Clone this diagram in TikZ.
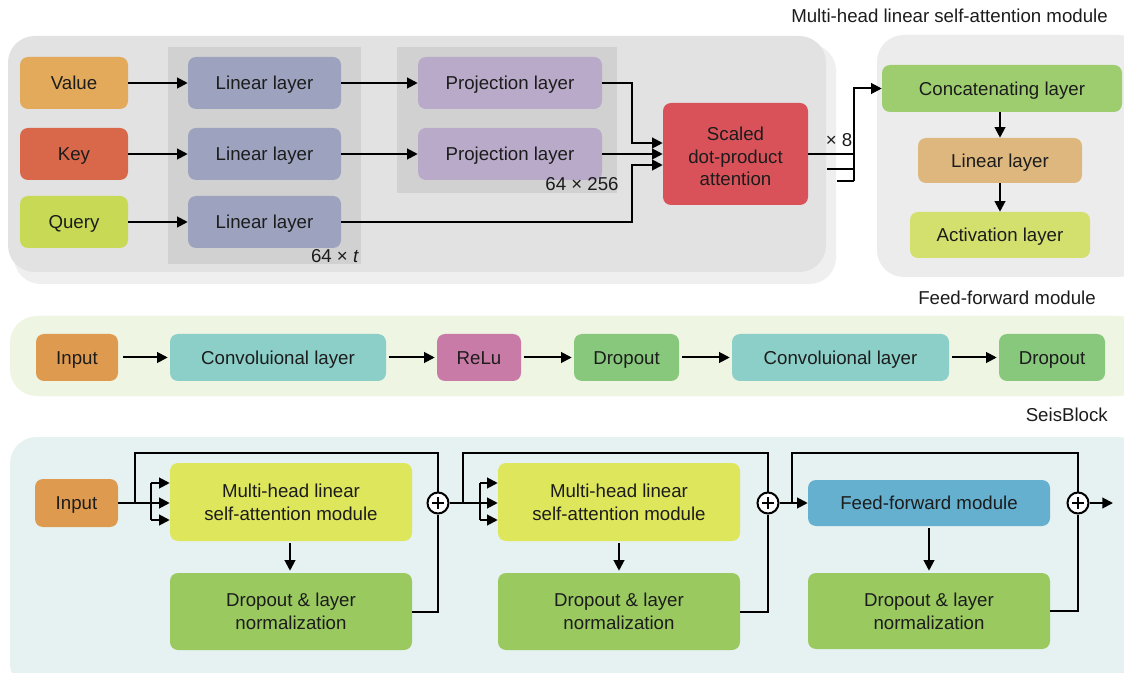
\documentclass[tikz,border=0pt]{standalone}
\usepackage{fontspec}
\setmainfont{Liberation Sans}
\usetikzlibrary{arrows.meta,calc}
\definecolor{txt}{HTML}{1C1C1C}
\definecolor{ptop}{HTML}{E2E2E2}
\definecolor{pshadow}{HTML}{EFEFEF}
\definecolor{pinner}{HTML}{D1D1D1}
\definecolor{pright}{HTML}{ECECEC}
\definecolor{cvalue}{HTML}{E2AA5A}
\definecolor{ckey}{HTML}{D9684A}
\definecolor{cquery}{HTML}{C8DA55}
\definecolor{clin}{HTML}{9DA3BF}
\definecolor{cproj}{HTML}{B9AAC9}
\definecolor{cscaled}{HTML}{D9525A}
\definecolor{ccat}{HTML}{9ECD6F}
\definecolor{clinr}{HTML}{DDB77E}
\definecolor{cact}{HTML}{D3E06E}
\definecolor{pff}{HTML}{EEF5E2}
\definecolor{cinput}{HTML}{DE9B4F}
\definecolor{cconv}{HTML}{8CCFC8}
\definecolor{crelu}{HTML}{C97BA7}
\definecolor{cdrop}{HTML}{88C87C}
\definecolor{pseis}{HTML}{E6F2F1}
\definecolor{cmha}{HTML}{DEE65C}
\definecolor{cdn}{HTML}{9AC960}
\definecolor{cffm}{HTML}{65AFCF}
\begin{document}
\begin{tikzpicture}[x=0.75pt,y=-0.75pt,
  font=\fontsize{14}{17}\selectfont,
  sz/.style 2 args={minimum width=#1*0.75pt, minimum height=#2*0.75pt},
  box/.style={rounded corners=6pt, inner sep=0pt, align=center, text=txt},
  one/.style={text height=10pt, text depth=0pt},
  ln/.style={line width=1.5pt, draw=black},
  arr/.style={ln, -{Triangle[length=8pt,width=8pt]}},
  oplus/.style={circle, draw, line width=1.5pt, fill=white, minimum size=21*0.75pt, inner sep=0pt,
    path picture={\draw[line width=1.4pt] ($(path picture bounding box.center)+(0,-6)$) -- ($(path picture bounding box.center)+(0,6)$)
      ($(path picture bounding box.center)+(-6,0)$) -- ($(path picture bounding box.center)+(6,0)$);}},
  lbl/.style={text=txt, inner sep=0pt}
]
\clip (0,0) rectangle (1124,673);
\fill[white] (0,0) rectangle (1124,673);

% ---------------- top panel ----------------
\fill[pshadow, rounded corners=20pt] (14,44) rectangle (836,284);
\fill[ptop, rounded corners=20pt] (8,36) rectangle (826,272);
\fill[pinner] (168,47) rectangle (361,264);
\fill[pinner] (397,47) rectangle (617,193);
\fill[pright, rounded corners=20pt] (877,35) rectangle (1145,277);

\node[lbl, anchor=east] (t1) at (1108,16) {Multi-head linear self-attention module};

\node[box, one, fill=cvalue, sz={108}{52}] (val) at (74,83) {Value};
\node[box, one, fill=ckey, sz={108}{52}] (key) at (74,154) {Key};
\node[box, one, fill=cquery, sz={108}{52}] (qry) at (74,222) {Query};
\node[box, one, fill=clin, sz={153}{52}] (lv) at (264.5,83) {Linear layer};
\node[box, one, fill=clin, sz={153}{52}] (lk) at (264.5,154) {Linear layer};
\node[box, one, fill=clin, sz={153}{52}] (lq) at (264.5,222) {Linear layer};
\node[box, one, fill=cproj, sz={184}{52}] (pv) at (510,83) {Projection layer};
\node[box, one, fill=cproj, sz={184}{52}] (pk) at (510,154) {Projection layer};
\node[box, fill=cscaled, sz={145}{102}] (sc) at (735.5,154) {\rule{0pt}{1.5ex}\\[-14pt]Scaled\\dot-product\\attention};
\node[lbl] (d64t) at (335,256) {64 × \textit{t}};
\node[lbl] (d64) at (582,184) {64 × 256};
\node[lbl] (x8) at (839,140) {× 8};

\draw[arr] (val) -- (lv);
\draw[arr] (key) -- (lk);
\draw[arr] (qry) -- (lq);
\draw[arr] (lv) -- (pv);
\draw[arr] (lk) -- (pk);
\coordinate (jx) at (632,0);
\draw[arr] (pv.east) -- (pv.east -| jx) |- ($(sc.west)+(0,-11)$);
\draw[arr] (pk.east) -- (sc.west);
\draw[arr] (lq.east) -- (lq.east -| jx) |- ($(sc.west)+(0,11)$);

\node[box, one, fill=ccat, sz={240}{47}] (cat) at (1002,88.5) {Concatenating layer};
\node[box, one, fill=clinr, sz={164}{45}] (lr) at (1000,160.5) {Linear layer};
\node[box, one, fill=cact, sz={180}{46}] (act) at (1000,235) {Activation layer};
\draw[arr] (cat.south -| lr.north) -- (lr.north);
\draw[arr] (lr) -- (act);

\coordinate (o2) at (827,169);
\coordinate (o3) at (837,181);
\coordinate (vx) at (854,181);
\draw[ln] (sc.east) -- (sc.east -| vx);
\draw[ln] (o2) -- (o2 -| vx);
\draw[ln] (o3) -- (vx);
\draw[arr] (vx) |- (cat.west);

% ---------------- feed-forward panel ----------------
\node[lbl, anchor=east] (t2) at (1096,298) {Feed-forward module};
\fill[pff, rounded corners=20pt] (10,316) rectangle (1145,396);
\node[box, one, fill=cinput, sz={82}{47}] (fin) at (77,357.5) {Input};
\node[box, one, fill=cconv, sz={216}{47}] (fc1) at (278,357.5) {Convoluional layer};
\node[box, one, fill=crelu, sz={84}{47}] (frl) at (479,357.5) {ReLu};
\node[box, one, fill=cdrop, sz={105}{47}] (fd1) at (626.5,357.5) {Dropout};
\node[box, one, fill=cconv, sz={217}{47}] (fc2) at (840.5,357.5) {Convoluional layer};
\node[box, one, fill=cdrop, sz={106}{47}] (fd2) at (1052,357.5) {Dropout};
\draw[arr] ($(fin.east)+(5,0)$) -- ($(fc1.west)+(-2,0)$);
\draw[arr] ($(fc1.east)+(3,0)$) -- ($(frl.west)+(-2,0)$);
\draw[arr] ($(frl.east)+(3,0)$) -- ($(fd1.west)+(-2,0)$);
\draw[arr] ($(fd1.east)+(3,0)$) -- ($(fc2.west)+(-2,0)$);
\draw[arr] ($(fc2.east)+(3,0)$) -- ($(fd2.west)+(-2,0)$);

% ---------------- SeisBlock panel ----------------
\node[lbl, anchor=east] (t3) at (1108,415) {SeisBlock};
\fill[pseis, rounded corners=20pt] (10,437) rectangle (1145,690);

\node[box, one, fill=cinput, sz={83}{48}] (sin) at (76.5,503) {Input};
\node[box, fill=cmha, sz={242}{78}] (m1) at (291,502) {Multi-head linear\\self-attention module};
\node[box, fill=cdn, sz={242}{77}] (d1) at (291,611.5) {Dropout \& layer\\normalization};
\node[box, fill=cmha, sz={242}{78}] (m2) at (619,502) {Multi-head linear\\self-attention module};
\node[box, fill=cdn, sz={242}{77}] (d2) at (619,611.5) {Dropout \& layer\\normalization};
\node[box, one, fill=cffm, sz={242}{46}] (ff) at (929,503) {Feed-forward module};
\node[box, fill=cdn, sz={242}{76}] (d3) at (929,611) {Dropout \& layer\\normalization};
\node[oplus] (c1) at (438,503) {};
\node[oplus] (c2) at (768,503) {};
\node[oplus] (c3) at (1078,503) {};

% block 1
\coordinate (s1) at (135,503);
\coordinate (k1) at (151,503);
\coordinate (k1a) at (151,483);
\coordinate (k1c) at (151,520);
\draw[ln] (sin.east) -- (k1);
\draw[ln] (k1a) -- (k1c);
\draw[arr] (k1a) -- (k1a -| m1.west);
\draw[arr] (k1) -- (k1 -| m1.west);
\draw[arr] (k1c) -- (k1c -| m1.west);
\draw[ln] (s1) -- ++(0,-50) -| (c1.north);
\draw[arr] ($(m1.south)+(-1,2)$) -- ($(d1.north)+(-1,-2)$);
\draw[ln] (d1.east) -| (c1.south);

% block 2
\coordinate (s2) at (463,503);
\coordinate (k2) at (480,503);
\coordinate (k2a) at (480,483);
\coordinate (k2c) at (480,520);
\draw[ln] (c1.east) -- (k2);
\draw[ln] (k2a) -- (k2c);
\draw[arr] (k2a) -- (k2a -| m2.west);
\draw[arr] (k2) -- (k2 -| m2.west);
\draw[arr] (k2c) -- (k2c -| m2.west);
\draw[ln] (s2) -- ++(0,-50) -| (c2.north);
\draw[arr] ($(m2.south)+(0,2)$) -- ($(d2.north)+(0,-2)$);
\draw[ln] (d2.east) -| (c2.south);

% block 3
\coordinate (s3) at (792,503);
\draw[arr] (c2.east) -- (ff.west);
\draw[ln] (s3) -- ++(0,-50) -| (c3.north);
\draw[arr] ($(ff.south)+(0,2)$) -- ($(d3.north)+(0,-2)$);
\draw[ln] (d3.east) -| (c3.south);
\coordinate (out) at (1113,503);
\draw[arr] (c3.east) -- (out);
\end{tikzpicture}
\end{document}
